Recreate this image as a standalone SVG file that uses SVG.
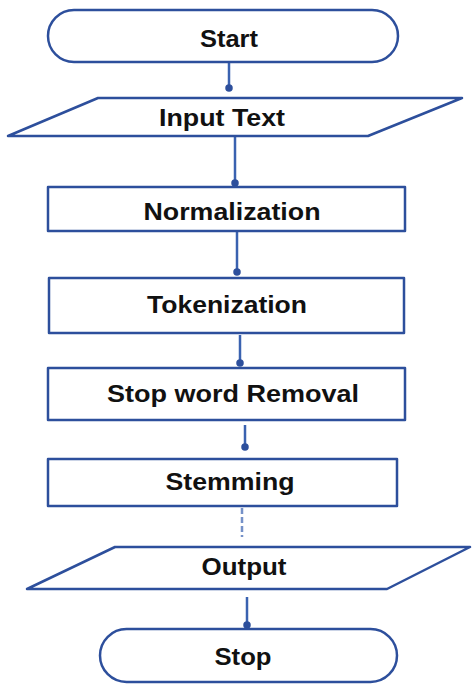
<svg xmlns="http://www.w3.org/2000/svg" width="472" height="684" viewBox="0 0 472 684">
<style>
.s{fill:#fff;stroke:#2d4f9c;stroke-width:2.5;stroke-linejoin:round}
.t{font-family:"Liberation Sans",Arial,sans-serif;font-weight:bold;font-size:23px;fill:#111;text-anchor:middle}
.c{stroke:#3a62b0;stroke-width:2.5;fill:none}
</style>
<defs>
<marker id="dot" viewBox="0 0 6 6" refX="3" refY="3" markerWidth="3" markerHeight="3" markerUnits="strokeWidth"><circle cx="3" cy="3" r="3" fill="#2d4f9c"/></marker>
</defs>
<rect width="472" height="684" fill="#fff"/>
<g id="connectors">
<line class="c" x1="229" y1="62" x2="229" y2="88" marker-end="url(#dot)"/>
<line class="c" x1="235" y1="137" x2="235" y2="183" marker-end="url(#dot)"/>
<line class="c" x1="237" y1="232" x2="237" y2="272" marker-end="url(#dot)"/>
<line class="c" x1="240" y1="335" x2="240" y2="363" marker-end="url(#dot)"/>
<line class="c" x1="245" y1="425" x2="245" y2="447" marker-end="url(#dot)"/>
<line class="c" x1="242" y1="508" x2="242" y2="537" stroke-dasharray="6 3" opacity="0.7"/>
<line class="c" x1="247" y1="597" x2="247" y2="625" marker-end="url(#dot)"/>
</g>
<g id="start">
<rect class="s" x="48" y="10" width="350" height="52" rx="26"/>
<text class="t" x="229" y="47" textLength="58" lengthAdjust="spacingAndGlyphs">Start</text>
</g>
<g id="input">
<polygon class="s" points="98,98 462,98 368,136 8,136"/>
<text class="t" x="222" y="126" textLength="126" lengthAdjust="spacingAndGlyphs">Input Text</text>
</g>
<g id="normalization">
<rect class="s" x="48" y="187" width="357" height="44"/>
<text class="t" x="232" y="220" textLength="177" lengthAdjust="spacingAndGlyphs">Normalization</text>
</g>
<g id="tokenization">
<rect class="s" x="49" y="278" width="355" height="55"/>
<text class="t" x="227" y="313" textLength="160" lengthAdjust="spacingAndGlyphs">Tokenization</text>
</g>
<g id="stopword">
<rect class="s" x="48" y="368" width="357" height="52"/>
<text class="t" x="233" y="402" textLength="252" lengthAdjust="spacingAndGlyphs">Stop word Removal</text>
</g>
<g id="stemming">
<rect class="s" x="48" y="459" width="349" height="47"/>
<text class="t" x="230" y="490" textLength="129" lengthAdjust="spacingAndGlyphs">Stemming</text>
</g>
<g id="output">
<polygon class="s" points="115,547 470,547 387,589 27,589"/>
<text class="t" x="244" y="575" textLength="85" lengthAdjust="spacingAndGlyphs">Output</text>
</g>
<g id="stop">
<rect class="s" x="100" y="629" width="297" height="53" rx="26.5"/>
<text class="t" x="243" y="665" textLength="57" lengthAdjust="spacingAndGlyphs">Stop</text>
</g>
</svg>
